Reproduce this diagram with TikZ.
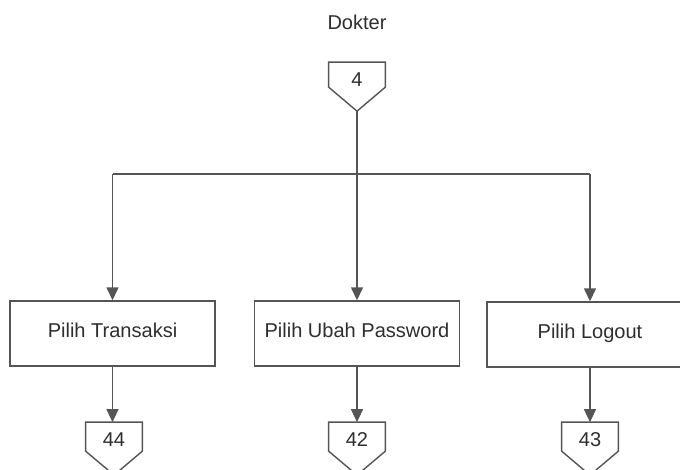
\documentclass[tikz,border=0pt]{standalone}
\usepackage{fontspec}
\setmainfont{Liberation Sans}
\usetikzlibrary{arrows.meta,calc}
\definecolor{inkline}{HTML}{555555}
\definecolor{inktext}{HTML}{2E2E2E}
\begin{document}
\begin{tikzpicture}[x=0.02cm,y=-0.02cm,
  font=\fontsize{11.4}{13}\selectfont, text=inktext,
  wire/.style={draw=inkline, line width=0.8pt},
  procbox/.style={draw=inkline, line width=0.8pt, fill=white, rectangle,
    minimum height=1.3cm, inner sep=0pt, text height=0.72em, text depth=0.22em},
  offpage/.style={rectangle, draw=none, minimum width=1.12cm,
    minimum height=0.7cm, inner sep=0pt},
  flow/.style={wire, -{Triangle[width=0.24cm,length=0.26cm]}}]
  \useasboundingbox (0,0) rectangle (680,470);

  % title
  \node (title) at (357,22) {Dokter};

  % off-page connectors: a pentagon hanging from the node's top edge
  \newcommand{\pentagon}[2]{%
    \draw[wire] (#1.north west) -- (#1.north east) -- ($(#1.north east)+(0,#2)$)
      -- ($(#1.north)+(0,#2+24)$) -- ($(#1.north west)+(0,#2)$) -- cycle;
    \coordinate (#1-tip) at ($(#1.north)+(0,#2+24)$);}

  \node[offpage] (c4) at (357,80) {4};
  \pentagon{c4}{25}

  % process boxes
  \node[procbox, minimum width=4.1cm] (trans) at (112.5,333.5) {Pilih Transaksi};
  \node[procbox, minimum width=4.1cm] (pass) at (357,333.5) {Pilih Ubah Password};
  \node[procbox, minimum width=4.12cm] (logout) at (590,334.5) {Pilih Logout};

  % bottom connectors
  \node[offpage] (c44) at (114,440) {44};
  \node[offpage] (c42) at (357,440) {42};
  \node[offpage] (c43) at (590,440) {43};
  \pentagon{c44}{29}
  \pentagon{c42}{29}
  \pentagon{c43}{29}

  % branching from connector 4
  \coordinate (split) at (357,174);
  \coordinate (splitL) at (112.5,174);
  \coordinate (splitR) at (590,174);
  \draw[wire] (c4-tip) -- (split);
  \draw[wire] (splitL) -- (splitR);
  \draw[flow] (splitL) -- (trans.north);
  \draw[flow] (split) -- (pass.north);
  \draw[flow] (splitR) -- (logout.north);

  % boxes down to connectors
  \draw[flow] (trans.south) -- (trans.south |- c44.north);
  \draw[flow] (pass.south) -- (c42.north);
  \draw[flow] (logout.south) -- (c43.north);
\end{tikzpicture}
\end{document}
